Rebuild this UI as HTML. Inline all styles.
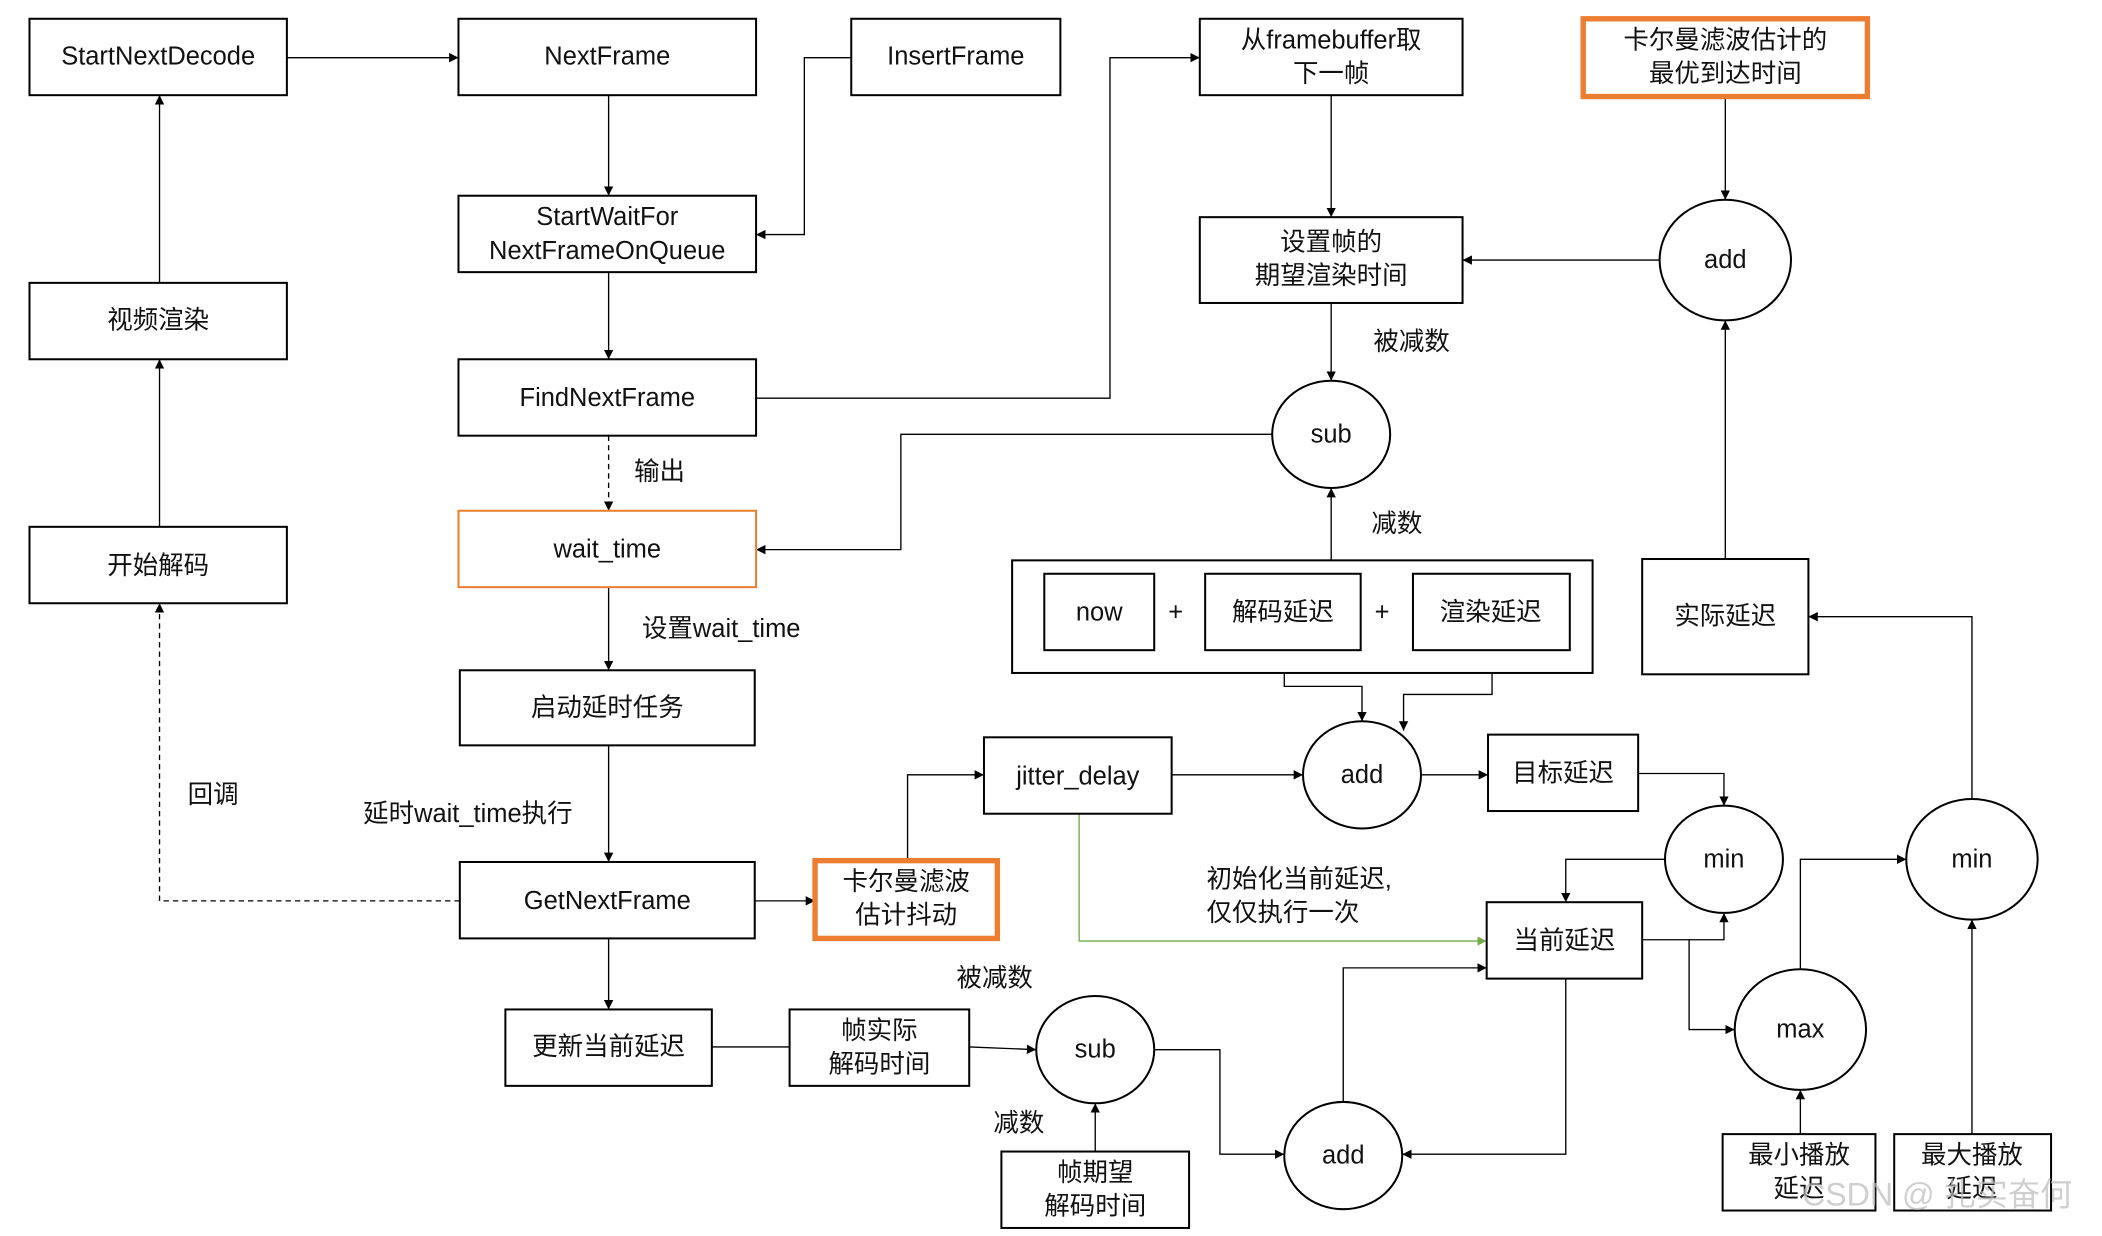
<!DOCTYPE html>
<html><head><meta charset="utf-8"><style>
html,body{margin:0;padding:0;background:#fff;}
svg{display:block;}
text{font-family:"Liberation Sans","Noto Sans CJK SC",sans-serif;font-size:19px;fill:#111;text-anchor:middle;dominant-baseline:middle;}
.b{fill:#fff;stroke:#000;stroke-width:1.5;}
.o{fill:#fff;stroke:#ED7D31;stroke-width:4;}
.ot{fill:#fff;stroke:#ED7D31;stroke-width:1.5;}
.l{fill:none;stroke:#000;stroke-width:1;}
</style></head><body>
<svg width="2102" height="1236" viewBox="0 0 1568 922" xmlns="http://www.w3.org/2000/svg">
<defs><marker id="a" viewBox="0 0 10 10" refX="10" refY="5" markerWidth="7" markerHeight="7" orient="auto"><path d="M0,0L10,5L0,10z" fill="#000"/></marker>
<marker id="g" viewBox="0 0 10 10" refX="10" refY="5" markerWidth="7" markerHeight="7" orient="auto"><path d="M0,0L10,5L0,10z" fill="#70AD47"/></marker></defs>

<g class="l" marker-end="url(#a)">
<polyline points="214,43 342,43"/>
<polyline points="454,71 454,146"/>
<polyline points="635,43 600,43 600,175 564,175"/>
<polyline points="454,203 454,268"/>
<polyline points="564,297 828,297 828,43 895,43"/>
<polyline points="993,71 993,162"/>
<polyline points="1287,72 1287,149"/>
<polyline points="1238,194 1091,194"/>
<polyline points="993,226 993,284"/>
<polyline points="949,324 672,324 672,410 564,410"/>
<polyline points="993,418 993,364"/>
<polyline points="454,325 454,381" stroke-dasharray="4,3"/>
<polyline points="454,438 454,500"/>
<polyline points="454,556 454,643"/>
<polyline points="343,672 119,672 119,450" stroke-dasharray="4,3"/>
<polyline points="119,393 119,268"/>
<polyline points="119,211 119,71"/>
<polyline points="563,672 608,672"/>
<polyline points="677,642 677,578 734,578"/>
<polyline points="874,578 972,578"/>
<polyline points="958,485 958,512 1016,512 1016,538"/>
<polyline points="1113,485 1113,518 1047,518 1047,545"/>
<polyline points="1060,578 1110,578"/>
<polyline points="1222,577 1286,577 1286,601"/>
<polyline points="1242,641 1168,641 1168,673"/>
<polyline points="1225,701 1286,701 1286,681"/>
<polyline points="1260,701 1260,768 1294,768"/>
<polyline points="1343,723 1343,641 1422,641"/>
<polyline points="1471,596 1471,460 1349,460"/>
<polyline points="1287,417 1287,239"/>
<polyline points="1343,846 1343,813"/>
<polyline points="1471,846 1471,686"/>
<polyline points="454,700 454,753"/>
<polyline points="723,781 773,783"/>
<polyline points="817,859 817,823"/>
<polyline points="861,783 910,783 910,861 958,861"/>
<polyline points="1002,822 1002,722 1109,722"/>
<polyline points="1168,730 1168,861 1046,861"/>
</g>
<polyline class="l" points="531,781 589,781"/>
<polyline points="805,607 805,702 1109,702" fill="none" stroke="#70AD47" stroke-width="1" marker-end="url(#g)"/>

<rect class="b" x="22" y="14" width="192" height="57"/><text x="118" y="43">StartNextDecode</text>
<rect class="b" x="342" y="14" width="222" height="57"/><text x="453" y="43">NextFrame</text>
<rect class="b" x="635" y="14" width="156" height="57"/><text x="713" y="43">InsertFrame</text>
<rect class="b" x="895" y="14" width="196" height="57"/><text x="993" y="31">从framebuffer取</text><text x="993" y="56">下一帧</text>
<rect class="o" x="1181" y="14" width="212" height="58"/><text x="1287" y="31">卡尔曼滤波估计的</text><text x="1287" y="56">最优到达时间</text>
<rect class="b" x="342" y="146" width="222" height="57"/><text x="453" y="163">StartWaitFor</text><text x="453" y="188">NextFrameOnQueue</text>
<rect class="b" x="22" y="211" width="192" height="57"/><text x="118" y="240">视频渲染</text>
<rect class="b" x="895" y="162" width="196" height="64"/><text x="993" y="182">设置帧的</text><text x="993" y="207">期望渲染时间</text>
<ellipse class="b" cx="1287" cy="194" rx="49" ry="45"/><text x="1287" y="195">add</text>
<rect class="b" x="342" y="268" width="222" height="57"/><text x="453" y="298">FindNextFrame</text>
<ellipse class="b" cx="993" cy="324" rx="44" ry="40"/><text x="993" y="325">sub</text>
<text x="1053" y="256">被减数</text><text x="492" y="353">输出</text><text x="1042" y="392">减数</text>
<rect class="ot" x="342" y="381" width="222" height="57"/><text x="453" y="411">wait_time</text>
<rect class="b" x="22" y="393" width="192" height="57"/><text x="118" y="423">开始解码</text>
<rect class="b" x="755" y="418" width="433" height="84"/>
<rect class="b" x="779" y="428" width="82" height="57"/><text x="820" y="458">now</text><text x="877" y="458">+</text>
<rect class="b" x="899" y="428" width="116" height="57"/><text x="957" y="458">解码延迟</text><text x="1031" y="458">+</text>
<rect class="b" x="1054" y="428" width="117" height="57"/><text x="1112" y="458">渲染延迟</text>
<rect class="b" x="1225" y="417" width="124" height="86"/><text x="1287" y="461">实际延迟</text>
<text x="538" y="470">设置wait_time</text>
<rect class="b" x="343" y="500" width="220" height="56"/><text x="453" y="529">启动延时任务</text>
<rect class="b" x="734" y="550" width="140" height="57"/><text x="804" y="580">jitter_delay</text>
<ellipse class="b" cx="1016" cy="578" rx="44" ry="40"/><text x="1016" y="579">add</text>
<rect class="b" x="1110" y="548" width="112" height="57"/><text x="1166" y="578">目标延迟</text>
<text x="159" y="594">回调</text><text x="349" y="608">延时wait_time执行</text>
<ellipse class="b" cx="1286" cy="641" rx="44" ry="40"/><text x="1286" y="642">min</text>
<ellipse class="b" cx="1471" cy="641" rx="49" ry="45"/><text x="1471" y="642">min</text>
<rect class="b" x="343" y="643" width="220" height="57"/><text x="453" y="673">GetNextFrame</text>
<rect class="o" x="608" y="642" width="136" height="58"/><text x="676" y="659">卡尔曼滤波</text><text x="676" y="684">估计抖动</text>
<text x="900" y="657" style="text-anchor:start">初始化当前延迟,</text><text x="900" y="682" style="text-anchor:start">仅仅执行一次</text>
<rect class="b" x="1109" y="673" width="116" height="57"/><text x="1167" y="703">当前延迟</text>
<text x="742" y="731">被减数</text>
<ellipse class="b" cx="1343" cy="768" rx="49" ry="45"/><text x="1343" y="769">max</text>
<rect class="b" x="377" y="753" width="154" height="57"/><text x="454" y="782">更新当前延迟</text>
<rect class="b" x="589" y="753" width="134" height="57"/><text x="656" y="770">帧实际</text><text x="656" y="795">解码时间</text>
<ellipse class="b" cx="817" cy="783" rx="44" ry="40"/><text x="817" y="784">sub</text>
<text x="760" y="839">减数</text>
<ellipse class="b" cx="1002" cy="862" rx="44" ry="40"/><text x="1002" y="863">add</text>
<rect class="b" x="747" y="859" width="140" height="57"/><text x="817" y="876">帧期望</text><text x="817" y="901">解码时间</text>
<rect class="b" x="1285" y="846" width="114" height="57"/><text x="1342" y="863">最小播放</text><text x="1342" y="888">延迟</text>
<rect class="b" x="1413" y="846" width="117" height="57"/><text x="1471" y="863">最大播放</text><text x="1471" y="888">延迟</text>
<text x="1445" y="893" style="font-size:24px;fill:#bbb;fill-opacity:0.7">CSDN @ 扎实奋何</text>
</svg>
</body></html>
